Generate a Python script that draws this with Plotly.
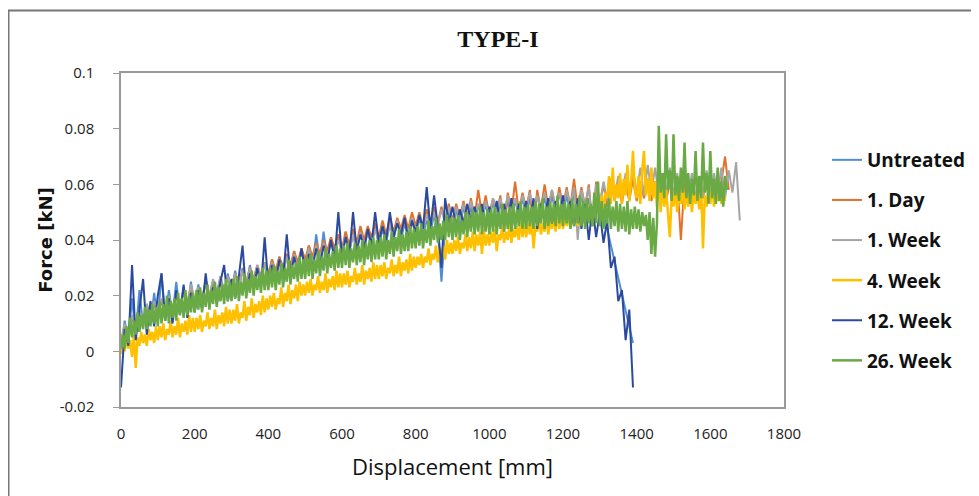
import plotly.graph_objects as go

# Force readings in N (= 0.001 kN); each series starts at 0 mm displacement
step_coarse_mm = 10   # sampling step of the series mostly hidden under others
step_fine_mm = 5      # sampling step of 4. Week and 26. Week

untreated = [
    0, 11, 4, 19, 6, 22, 9, 17, 10, 21,
    11, 28, 12, 22, 13, 25, 14, 23, 15, 25,
    16, 24, 17, 26, 18, 25, 19, 27, 20, 28,
    21, 29, 22, 30, 23, 31, 24, 30, 25, 32,
    26, 33, 27, 34, 27, 35, 28, 36, 29, 37,
    30, 38, 31, 42, 32, 43, 33, 41, 34, 42,
    35, 43, 36, 42, 36, 44, 37, 43, 38, 45,
    38, 44, 39, 46, 40, 47, 40, 46, 41, 47,
    42, 48, 42, 47, 43, 49, 44, 25, 44, 50,
    45, 51, 45, 52, 46, 52, 46, 53, 47, 53,
    47, 54, 48, 53, 48, 54, 49, 54, 49, 55,
    49, 55, 50, 56, 50, 55, 50, 56, 50, 57,
    50, 56, 50, 57, 49, 56, 49, 55, 48, 55,
    47, 52, 44, 38, 32, 27, 20, 14, 8, 3,
]

day_1 = [
    3, 9, 7, 12, 8, 14, 11, 16, 12, 17,
    13, 18, 14, 19, 15, 20, 16, 21, 17, 22,
    18, 23, 19, 24, 20, 25, 21, 26, 22, 27,
    23, 28, 24, 29, 25, 30, 26, 31, 27, 32,
    28, 33, 29, 34, 30, 35, 31, 36, 32, 37,
    33, 38, 34, 39, 35, 40, 36, 41, 37, 42,
    37, 43, 38, 44, 39, 45, 40, 45, 41, 46,
    41, 47, 42, 48, 43, 48, 44, 49, 44, 50,
    45, 50, 45, 51, 46, 52, 46, 52, 47, 53,
    47, 53, 48, 54, 48, 55, 48, 58, 49, 56,
    49, 55, 50, 56, 43, 57, 50, 61, 50, 57,
    51, 58, 44, 58, 51, 60, 52, 58, 51, 59,
    52, 59, 52, 62, 51, 59, 52, 60, 45, 61,
    53, 60, 52, 62, 54, 60, 53, 61, 54, 62,
    54, 61, 55, 62, 54, 61, 55, 62, 54, 61,
    55, 62, 40, 61, 55, 62, 54, 61, 55, 63,
    55, 62, 56, 61, 70, 58,
]

week_1 = [
    4, 10, 6, 13, 9, 15, 10, 17, 12, 18,
    13, 19, 14, 20, 15, 21, 16, 22, 17, 24,
    18, 23, 19, 25, 20, 26, 21, 27, 22, 27,
    22, 28, 23, 29, 24, 30, 25, 31, 26, 32,
    26, 32, 27, 33, 28, 34, 29, 35, 30, 36,
    31, 37, 32, 38, 33, 39, 34, 39, 35, 40,
    36, 41, 36, 42, 37, 43, 38, 43, 38, 44,
    39, 45, 40, 46, 41, 47, 42, 47, 42, 48,
    43, 49, 44, 49, 45, 50, 45, 51, 46, 52,
    46, 52, 47, 53, 47, 54, 48, 53, 48, 54,
    49, 55, 49, 55, 50, 56, 50, 55, 50, 56,
    51, 57, 50, 56, 51, 57, 51, 58, 52, 57,
    51, 58, 52, 59, 40, 58, 52, 59, 45, 60,
    53, 61, 54, 62, 55, 63, 56, 64, 57, 65,
    57, 66, 56, 67, 57, 66, 56, 64, 57, 66,
    56, 64, 55, 63, 56, 64, 55, 63, 56, 65,
    55, 64, 56, 66, 55, 65, 57, 68, 47,
]

week_4 = [
    -1, 3, 0, 5, 1, 4, -2, 6, -6, 5, 2, 7, 3, 6, 2, 8, 4, 7, 3, 9,
    4, 9, 5, 10, 4, 8, 6, 11, 5, 9, 6, 12, 5, 10, 7, 11, 6, 13, 7, 12,
    7, 12, 8, 13, 7, 11, 9, 14, 8, 12, 9, 15, 8, 13, 10, 14, 9, 16, 10, 15,
    10, 15, 11, 17, 10, 14, 12, 18, 11, 16, 13, 19, 12, 17, 14, 18, 13, 20, 14, 19,
    15, 20, 16, 21, 15, 19, 17, 23, 16, 21, 18, 24, 17, 22, 19, 24, 18, 25, 20, 24,
    20, 25, 21, 26, 20, 24, 22, 27, 21, 25, 22, 28, 21, 26, 23, 27, 22, 29, 23, 28,
    23, 28, 24, 29, 23, 27, 25, 30, 24, 28, 25, 31, 24, 29, 26, 30, 25, 32, 26, 31,
    26, 31, 27, 32, 26, 30, 28, 33, 27, 31, 28, 34, 27, 32, 29, 33, 28, 35, 29, 34,
    30, 34, 31, 35, 30, 34, 32, 37, 31, 35, 33, 38, 32, 37, 34, 38, 33, 40, 35, 39,
    35, 40, 36, 41, 35, 39, 37, 42, 36, 41, 37, 43, 36, 42, 38, 43, 35, 44, 38, 42,
    38, 43, 39, 44, 36, 42, 40, 45, 39, 43, 40, 46, 39, 44, 41, 45, 40, 47, 41, 46,
    41, 46, 42, 47, 37, 45, 43, 48, 42, 46, 43, 49, 42, 47, 44, 48, 43, 50, 44, 49,
    44, 49, 45, 50, 44, 48, 46, 51, 45, 50, 47, 52, 46, 51, 48, 53, 47, 54, 49, 55,
    50, 56, 51, 57, 55, 63, 53, 66, 54, 60, 55, 64, 53, 62, 56, 67, 54, 61, 72, 58,
    55, 63, 53, 65, 72, 56, 62, 54, 66, 55, 61, 52, 64, 50, 60, 52, 58, 49, 41, 56,
    52, 59, 50, 58, 53, 60, 51, 57, 52, 59, 50, 58, 53, 57, 51, 60, 37, 56, 52, 58,
    53, 60, 52, 57, 54, 59, 53, 58, 54,
]

week_12 = [
    -13, 8, 2, 31, 4, 16, 26, 6, 18, 9,
    20, 28, 11, 19, 10, 22, 13, 24, 12, 21,
    14, 22, 15, 28, 16, 23, 17, 25, 31, 18,
    26, 19, 27, 38, 20, 28, 22, 30, 23, 41,
    24, 31, 25, 33, 26, 42, 27, 34, 28, 37,
    29, 35, 30, 37, 31, 38, 32, 40, 33, 50,
    34, 41, 35, 50, 36, 42, 37, 44, 38, 50,
    39, 45, 40, 50, 41, 46, 42, 48, 40, 47,
    43, 49, 44, 59, 44, 56, 45, 30, 55, 46,
    52, 45, 51, 46, 53, 47, 52, 46, 53, 44,
    52, 47, 54, 46, 53, 47, 55, 45, 53, 48,
    54, 47, 55, 44, 53, 48, 55, 46, 54, 48,
    56, 47, 54, 45, 55, 44, 53, 40, 52, 41,
    50, 39, 47, 30, 34, 18, 22, 4, 15, -13,
]

week_26 = [
    1, 6, 1, 9, 3, 12, 5, 11, 6, 14, 7, 13, 8, 16, 8, 15, 9, 17, 10, 16,
    9, 18, 10, 17, 11, 20, 10, 18, 12, 19, 11, 21, 13, 19, 12, 22, 13, 20, 14, 21,
    14, 22, 15, 23, 14, 21, 16, 24, 15, 22, 17, 25, 16, 23, 18, 24, 17, 26, 18, 25,
    18, 26, 19, 27, 18, 25, 20, 28, 19, 26, 21, 29, 20, 27, 22, 28, 21, 30, 22, 29,
    22, 30, 23, 31, 22, 29, 24, 32, 23, 30, 25, 33, 24, 31, 26, 32, 25, 34, 26, 33,
    26, 34, 27, 35, 26, 33, 28, 36, 27, 34, 29, 37, 28, 35, 30, 36, 29, 38, 30, 37,
    30, 38, 31, 39, 30, 37, 32, 39, 31, 38, 32, 40, 31, 39, 33, 40, 32, 41, 33, 40,
    33, 41, 34, 42, 33, 40, 35, 43, 34, 41, 36, 44, 35, 42, 36, 43, 36, 45, 37, 44,
    37, 45, 38, 46, 37, 44, 39, 47, 38, 45, 40, 48, 39, 46, 40, 47, 40, 49, 41, 48,
    40, 48, 41, 49, 40, 47, 42, 50, 41, 49, 43, 51, 42, 50, 43, 52, 42, 50, 43, 51,
    42, 51, 43, 52, 42, 50, 44, 53, 43, 51, 44, 52, 43, 53, 44, 51, 45, 54, 44, 52,
    44, 53, 45, 52, 44, 54, 45, 53, 46, 55, 44, 52, 45, 54, 46, 53, 45, 56, 46, 53,
    45, 54, 46, 53, 44, 55, 45, 53, 46, 56, 45, 54, 44, 55, 46, 53, 45, 57, 46, 61,
    45, 54, 44, 53, 46, 55, 44, 52, 45, 54, 43, 53, 44, 52, 43, 54, 42, 51, 44, 52,
    44, 51, 43, 50, 45, 49, 40, 50, 35, 48, 34, 46, 81, 57, 64, 55, 78, 58, 65, 54,
    78, 56, 63, 54, 66, 57, 75, 55, 64, 53, 62, 56, 72, 54, 63, 55, 75, 57, 64, 53,
    72, 55, 62, 53, 66, 54, 61, 52, 63, 58,
]

series_names = ["Untreated", "1. Day", "1. Week", "4. Week", "12. Week", "26. Week"]
series_values = [untreated, day_1, week_1, week_4, week_12, week_26]
series_steps = [step_coarse_mm, step_coarse_mm, step_coarse_mm, step_fine_mm, step_coarse_mm, step_fine_mm]
series_colors = ["#4F8FD6", "#E2712C", "#A5A5A5", "#FFC000", "#2B4A9E", "#6AAA45"]
series_widths = [2, 2, 2, 2.5, 2, 2.5]

x_ticks = [0, 200, 400, 600, 800, 1000, 1200, 1400, 1600, 1800]
y_ticks = [-0.02, 0, 0.02, 0.04, 0.06, 0.08, 0.1]
y_tick_text = ["-0.02", "0", "0.02", "0.04", "0.06", "0.08", "0.1"]

fig = go.Figure()
for name, vals, step, col, lw in zip(series_names, series_values, series_steps,
                                     series_colors, series_widths):
    xs = [i * step for i in range(len(vals))]
    ys = [v / 1000 for v in vals]
    fig.add_trace(go.Scatter(
        x=xs, y=ys, mode="lines", name=name, legendgroup=name,
        line=dict(color=col, width=lw),
    ))

OFF = 8  # page body offset
W, H = 979, 496
L, T = 121 - OFF, 73 - OFF
R = W - (784 - OFF)
B = H - (407 - OFF)
pw, ph = W - L - R, H - T - B


def px_x(sx):  # screen x -> paper x
    return (sx - OFF - L) / pw


def px_y(sy):  # screen y -> paper y
    return (H - B - (sy - OFF)) / ph


fig.update_layout(
    width=W, height=H,
    margin=dict(l=L, r=R, t=T, b=B),
    paper_bgcolor="white", plot_bgcolor="white",
    showlegend=True,
    title=dict(text="<b>TYPE-I</b>", x=(498 - OFF) / W, xref="container", xanchor="center",
               y=1 - (39 - OFF) / H, yref="container", yanchor="middle",
               font=dict(family="Liberation Serif, Times New Roman, serif", size=24, color="#111")),
    legend=dict(x=px_x(827), xanchor="left", y=px_y(141), yanchor="top",
                font=dict(family="Open Sans, sans-serif", size=19, color="#111", weight="bold"),
                tracegroupgap=12.4, bgcolor="rgba(0,0,0,0)"),
    xaxis=dict(range=[0, 1800], tickvals=x_ticks, showgrid=False, zeroline=False,
               showline=True, mirror=True, linecolor="#9A9A9A", linewidth=1.5,
               ticks="", ticklabelstandoff=12,
               tickfont=dict(family="Open Sans, sans-serif", size=15, color="#222"),
               title=dict(text="Displacement [mm]", standoff=18,
                          font=dict(family="Open Sans, sans-serif", size=22, color="#111"))),
    yaxis=dict(range=[-0.02, 0.1], tickvals=y_ticks, ticktext=y_tick_text,
               showgrid=False, zeroline=False,
               showline=True, mirror=True, linecolor="#9A9A9A", linewidth=1.5,
               ticks="outside", ticklen=6, tickcolor="#9A9A9A", ticklabelstandoff=16,
               tickfont=dict(family="Open Sans, sans-serif", size=15, color="#222"),
               title=dict(text="<b>Force [kN]</b>", standoff=2,
                          font=dict(family="DejaVu Sans, Verdana, sans-serif", size=18, color="#111"))),
)

# outer figure frame
fig.add_shape(type="rect", xref="paper", yref="paper",
              x0=px_x(8.5), x1=px_x(1000),
              y0=px_y(520), y1=px_y(10.5),
              line=dict(color="#777777", width=2), fillcolor="rgba(0,0,0,0)", layer="below")

fig.write_html("out.html")
